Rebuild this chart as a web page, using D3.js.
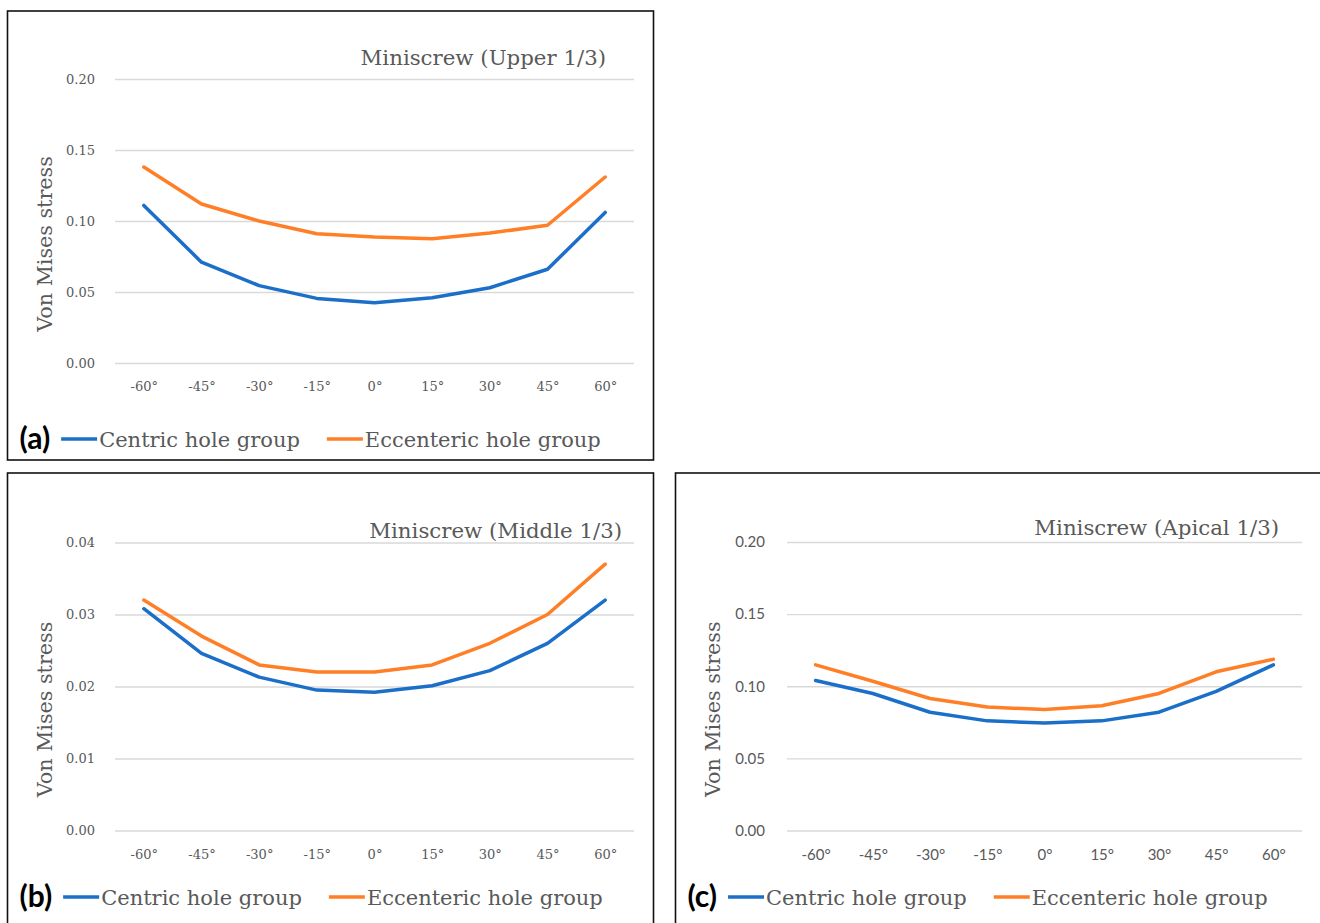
<!DOCTYPE html>
<html>
<head>
<meta charset="utf-8">
<script src="https://cdn.jsdelivr.net/npm/d3@7"></script>
<style>
  body { margin: 0; background: #fff; }
  svg { display: block; }
  .grid line { stroke: #d9d9d9; stroke-width: 1.3; }
  .serif { font-family: "DejaVu Serif", serif; }
  .sans { font-family: Lato, "Open Sans", sans-serif; }
</style>
</head>
<body>
<svg id="chart" width="1320" height="923"></svg>
<script>
// categories
const angles = ["-60°", "-45°", "-30°", "-15°", "0°", "15°", "30°", "45°", "60°"];
const seriesNames = ["Centric hole group", "Eccenteric hole group"];
const seriesColors = ["#1b6fc8", "#ff7f27"];

// (a) upper 1/3
const upperCentric   = [0.111, 0.071, 0.0545, 0.0455, 0.0425, 0.046, 0.053, 0.066, 0.106];
const upperEccentric = [0.138, 0.112, 0.100, 0.091, 0.0887, 0.0875, 0.0915, 0.097, 0.131];
const upperTicks = [0, 0.05, 0.10, 0.15, 0.20];

// (b) middle 1/3
const middleCentric   = [0.0308, 0.0246, 0.0213, 0.0195, 0.0192, 0.0201, 0.0222, 0.026, 0.032];
const middleEccentric = [0.032, 0.027, 0.023, 0.022, 0.022, 0.023, 0.026, 0.030, 0.037];
const middleTicks = [0, 0.01, 0.02, 0.03, 0.04];

// (c) apical 1/3
const apicalCentric   = [0.104, 0.095, 0.082, 0.076, 0.0745, 0.076, 0.082, 0.0965, 0.1148];
const apicalEccentric = [0.1148, 0.1035, 0.0915, 0.0856, 0.0838, 0.0865, 0.095, 0.110, 0.1187];
const apicalTicks = [0, 0.05, 0.10, 0.15, 0.20];

const svg = d3.select("#chart");

const panels = [
    { tag: "(a)", title: "Miniscrew (Upper 1/3)", series: [upperCentric, upperEccentric], ticks: upperTicks,
      frame: [7.5, 11, 646, 449], plotX: [115, 634], plotY: [363, 79], titleX: 606, titleY: 65,
      legendY: 439, tickClass: "serif", tickSize: 13, yPad: 20 },
    { tag: "(b)", title: "Miniscrew (Middle 1/3)", series: [middleCentric, middleEccentric], ticks: middleTicks,
      frame: [7.5, 473, 646, 470], plotX: [115, 634], plotY: [830.5, 542.5], titleX: 622, titleY: 538,
      legendY: 897, tickClass: "serif", tickSize: 13, yPad: 20 },
    { tag: "(c)", title: "Miniscrew (Apical 1/3)", series: [apicalCentric, apicalEccentric], ticks: apicalTicks,
      frame: [675.5, 473, 670, 470], plotX: [787, 1302], plotY: [830.5, 542], titleX: 1279, titleY: 535,
      legendY: 897, tickClass: "sans", tickSize: 15, yPad: 22 }
];

panels.forEach(drawPanel);

function drawPanel(p) {
    const g = svg.append("g");
    const [fx, fy, fw, fh] = p.frame;

    g.append("rect")
        .attr("x", fx).attr("y", fy)
        .attr("width", fw).attr("height", fh)
        .attr("fill", "none")
        .attr("stroke", "#111")
        .attr("stroke-width", 1.6);

    const x = d3.scalePoint()
        .domain(angles)
        .range(p.plotX)
        .padding(0.5);

    const y = d3.scaleLinear()
        .domain([0, d3.max(p.ticks)])
        .range(p.plotY);

    // gridlines + y tick labels
    const yAxis = g.append("g")
        .attr("class", "grid " + p.tickClass)
        .attr("transform", `translate(${p.plotX[0]},0)`)
        .call(d3.axisLeft(y)
            .tickValues(p.ticks)
            .tickSize(-(p.plotX[1] - p.plotX[0]))
            .tickPadding(p.yPad)
            .tickFormat(d3.format(".2f")));
    yAxis.select(".domain").remove();
    yAxis.selectAll("text")
        .attr("fill", "#595959")
        .style("font-size", p.tickSize + "px");

    // x tick labels
    const xAxis = g.append("g")
        .attr("class", p.tickClass)
        .attr("transform", `translate(0,${p.plotY[0]})`)
        .call(d3.axisBottom(x).tickSize(0).tickPadding(19));
    xAxis.select(".domain").remove();
    xAxis.selectAll("text")
        .attr("fill", "#595959")
        .style("font-size", p.tickSize + "px");

    // axis title
    const midY = (p.plotY[0] + p.plotY[1]) / 2 + 23;
    g.append("text")
        .attr("class", "serif")
        .attr("transform", `translate(${fx + 37},${midY}) rotate(-90)`)
        .attr("text-anchor", "middle")
        .attr("dominant-baseline", "central")
        .attr("fill", "#595959")
        .style("font-size", "20.7px")
        .text("Von Mises stress");

    // chart title
    g.append("text")
        .attr("class", "serif")
        .attr("x", p.titleX).attr("y", p.titleY)
        .attr("text-anchor", "end")
        .attr("fill", "#595959")
        .style("font-size", "21.3px")
        .text(p.title);

    // lines
    const line = d3.line()
        .x((d, i) => x(angles[i]))
        .y(d => y(d));

    p.series.forEach((values, k) => {
        g.append("path")
            .datum(values)
            .attr("fill", "none")
            .attr("stroke", seriesColors[k])
            .attr("stroke-width", 3.5)
            .attr("stroke-linejoin", "round")
            .attr("stroke-linecap", "round")
            .attr("d", line);
    });

    // legend
    const ly = p.legendY;
    const tag = g.append("text")
        .attr("class", "sans")
        .attr("x", fx + 12).attr("y", ly + 10)
        .attr("fill", "#000")
        .style("font-size", "30px")
        .style("font-weight", 700)
        .text(p.tag);
    let cursor = fx + 12 + tag.node().getComputedTextLength() + 11;
    seriesNames.forEach((name, k) => {
        g.append("line")
            .attr("x1", cursor).attr("x2", cursor + 36)
            .attr("y1", ly).attr("y2", ly)
            .attr("stroke", seriesColors[k])
            .attr("stroke-width", 3.5);
        const t = g.append("text")
            .attr("class", "serif")
            .attr("x", cursor + 38).attr("y", ly + 7.5)
            .attr("fill", "#595959")
            .style("font-size", "21px")
            .text(name);
        cursor += 38 + t.node().getComputedTextLength() + 27;
    });
}
</script>
</body>
</html>
